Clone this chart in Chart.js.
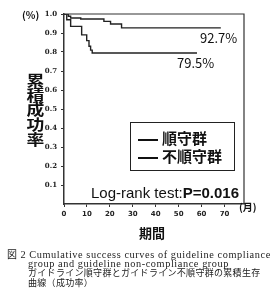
<!DOCTYPE html>
<html><head><meta charset="utf-8">
<script src="https://cdn.jsdelivr.net/npm/chart.js@4.4.1/dist/chart.umd.min.js"></script>
<style>
html,body{margin:0;padding:0;background:#fff;}
#wrap{position:relative;width:278px;height:300px;overflow:hidden;}
canvas{position:absolute;left:0;top:0;}
.t{position:absolute;color:#111;white-space:nowrap;line-height:1;}
.jp{font-family:"Noto Sans CJK JP","Noto Sans",sans-serif;font-weight:bold;}
.cap{font-family:"Liberation Serif","DejaVu Serif",serif;font-size:10.3px;letter-spacing:0.58px;color:#222;}
.capj{font-family:"Noto Sans CJK JP",sans-serif;font-size:9px;color:#222;letter-spacing:0.3px;}
</style></head>
<body><div id="wrap">
<canvas id="c" width="278" height="300"></canvas>
<div class="t jp" style="left:22px;top:10px;font-size:10px;">(%)</div>
<div class="t jp" style="left:26px;top:72px;font-size:17px;line-height:17px;width:18px;text-align:center;white-space:normal;transform:scale(1.05,0.865);transform-origin:0 0;">累<br>積<br>成<br>功<br>率</div>
<div class="t" style="left:200px;top:31px;font-family:'Noto Sans CJK JP',sans-serif;font-size:13px;">92.7%</div>
<div class="t" style="left:177px;top:56px;font-family:'Noto Sans CJK JP',sans-serif;font-size:13px;">79.5%</div>
<div style="position:absolute;left:130px;top:122px;width:103px;height:47px;border:1px solid #222;"></div>
<div class="t jp" style="left:138px;top:130px;font-size:15px;"><span style="display:inline-block;width:20px;height:1.6px;background:#111;vertical-align:middle;margin-right:4px;"></span>順守群</div>
<div class="t jp" style="left:138px;top:148px;font-size:15px;"><span style="display:inline-block;width:20px;height:1.6px;background:#111;vertical-align:middle;margin-right:4px;"></span>不順守群</div>
<div class="t" style="left:91px;top:185px;font-family:'Liberation Sans','DejaVu Sans',sans-serif;font-size:15px;">Log-rank test:<b>P=0.016</b></div>
<div class="t jp" style="left:239px;top:202px;font-size:10px;">(月)</div>
<div class="t jp" style="left:139px;top:226px;font-size:13px;">期間</div>
<div class="t cap" style="left:7px;top:249px;"><span class="capj" style="font-size:10px;">図</span> 2 Cumulative success curves of guideline compliance</div>
<div class="t cap" style="left:28px;top:259px;">group and guideline non-compliance group</div>
<div class="t capj" style="left:28px;top:268px;">ガイドライン順守群とガイドライン不順守群の累積生存</div>
<div class="t capj" style="left:28px;top:278px;">曲線（成功率）</div>
</div>
<script>
const complianceTimes = [0, 1.9, 2.9, 7.3, 17.4, 20.3, 25.1, 68.4];
const complianceValues = [1.0, 0.988, 0.979, 0.974, 0.961, 0.947, 0.927, 0.927];
const nonComplianceTimes = [0, 1.2, 2.9, 7.7, 9.9, 10.9, 11.6, 12.3, 58];
const nonComplianceValues = [1.0, 0.97, 0.935, 0.89, 0.86, 0.83, 0.81, 0.795, 0.795];
const xTickValues = [0, 10, 20, 30, 40, 50, 60, 70];
const yTickValues = [0.1, 0.2, 0.3, 0.4, 0.5, 0.6, 0.7, 0.8, 0.9, 1.0];

const pts = (ts, vs) => ts.map((t, i) => ({x: t, y: vs[i]}));
const boxPlugin = {
  id: 'box',
  afterDraw(chart) {
    const a = chart.chartArea, ctx = chart.ctx;
    ctx.save();
    ctx.strokeStyle = '#333';
    ctx.lineWidth = 1.2;
    ctx.beginPath();
    ctx.moveTo(a.left, a.top); ctx.lineTo(a.right, a.top); ctx.lineTo(a.right, a.bottom);
    ctx.stroke();
    ctx.restore();
  }
};
new Chart(document.getElementById('c'), {
  type: 'line',
  data: {
    datasets: [
      {data: pts(complianceTimes, complianceValues), stepped: true, borderColor: '#222', borderWidth: 1.4, pointRadius: 0, fill: false},
      {data: pts(nonComplianceTimes, nonComplianceValues), stepped: true, borderColor: '#222', borderWidth: 1.4, pointRadius: 0, fill: false}
    ]
  },
  options: {
    responsive: false, animation: false,
    layout: {padding: {left: 0, top: 14, right: 34, bottom: 0}},
    plugins: {legend: {display: false}, tooltip: {enabled: false}},
    scales: {
      x: {
        type: 'linear', min: 0, max: 78.5,
        afterBuildTicks: s => { s.ticks = xTickValues.map(v => ({value: v})); },
        afterFit: s => { s.height = 96; },
        border: {color: '#333', width: 1.5},
        grid: {drawOnChartArea: false, tickLength: 3, color: '#333'},
        ticks: {color: '#222', font: {family: 'DejaVu Sans', size: 7, weight: 'bold'}, padding: 3, maxRotation: 0}
      },
      y: {
        min: 0, max: 1.0,
        afterBuildTicks: s => { s.ticks = yTickValues.map(v => ({value: v})); },
        afterFit: s => { s.width = 64; },
        border: {color: '#333', width: 1.5},
        grid: {drawOnChartArea: false, tickLength: 3, color: '#333'},
        ticks: {color: '#222', font: {family: 'DejaVu Serif', size: 7, weight: 'bold'}, padding: 4, callback: v => v.toFixed(1)}
      }
    }
  },
  plugins: [boxPlugin]
});
</script>
</body></html>
